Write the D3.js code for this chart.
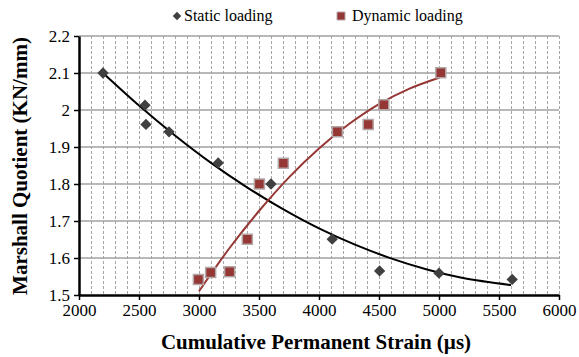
<!DOCTYPE html>
<html>
<head>
<meta charset="utf-8">
<script src="https://cdn.jsdelivr.net/npm/d3@7"></script>
<style>
  body { margin: 0; background: #fff; }
  text { font-family: "Liberation Serif", "Times New Roman", serif; fill: #000; }
  .titulo-eje { font-size: 21px; font-weight: bold; }
  .leyenda { font-size: 16px; }
</style>
</head>
<body>
<div id="graf"></div>
<script>
// I. Datos
staticX = [2200, 2550, 2558, 2750, 3160, 3600, 4110, 4505, 5000, 5610]
staticY = [2.10, 2.013, 1.961, 1.941, 1.857, 1.80, 1.651, 1.565, 1.559, 1.542]

dynamicX = [2995, 3097, 3255, 3403, 3503, 3703, 4153, 4410, 4540, 5015]
dynamicY = [1.542, 1.561, 1.563, 1.651, 1.80, 1.856, 1.941, 1.961, 2.014, 2.101]

// líneas de tendencia
staticTrendX = [2200, 2500, 2800, 3100, 3400, 3700, 4000, 4300, 4600, 4900, 5200, 5600]
staticTrendY = [2.10, 2.012, 1.931, 1.857, 1.791, 1.732, 1.680, 1.636, 1.599, 1.569, 1.546, 1.527]

dynamicTrendX = [3000, 3250, 3500, 3750, 4000, 4250, 4500, 4750, 5000]
dynamicTrendY = [1.51, 1.625, 1.727, 1.818, 1.896, 1.962, 2.016, 2.057, 2.087]

xTicks = [2000, 2500, 3000, 3500, 4000, 4500, 5000, 5500, 6000]
yTicks = [1.5, 1.6, 1.7, 1.8, 1.9, 2, 2.1, 2.2]

// II. Configuración
ancho_total = 579
alto_total = 357
margins = { top: 36, left: 79, right: 20, bottom: 62 }
ancho = ancho_total - margins.left - margins.right
alto = alto_total - margins.top - margins.bottom

svg = d3.select('#graf').append('svg')
        .attr('width', ancho_total)
        .attr('height', alto_total)

g = svg.append('g')
       .attr('transform', `translate(${ margins.left }, ${ margins.top })`)

x = d3.scaleLinear().domain([2000, 6000]).range([0, ancho])
y = d3.scaleLinear().domain([1.5, 2.2]).range([alto, 0])

// rejilla vertical punteada cada 100
g.append('g')
  .selectAll('line')
  .data(d3.range(2100, 6001, 100))
  .enter().append('line')
    .attr('x1', d => x(d)).attr('x2', d => x(d))
    .attr('y1', 0).attr('y2', alto)
    .attr('stroke', '#a6a6a6')
    .attr('stroke-width', 1)
    .attr('stroke-dasharray', '3,2')
    .attr('shape-rendering', 'crispEdges')

// rejilla horizontal
g.append('g')
  .selectAll('line')
  .data(yTicks.slice(1))
  .enter().append('line')
    .attr('x1', 0).attr('x2', ancho)
    .attr('y1', d => y(d)).attr('y2', d => y(d))
    .attr('stroke', '#a0a0a0')
    .attr('stroke-width', 1.5)

// ejes
xAxisGroup = g.append('g')
              .attr('class', 'eje')
              .attr('transform', `translate(0, ${ alto })`)
              .call(d3.axisBottom(x).tickValues(xTicks).tickSize(5).tickSizeOuter(0).tickPadding(4).tickFormat(d3.format('d')))
yAxisGroup = g.append('g')
              .attr('class', 'eje')
              .call(d3.axisLeft(y).tickValues(yTicks).tickSize(5).tickSizeOuter(0).tickPadding(4).tickFormat(d => d))

g.selectAll('.eje path').attr('stroke', '#000').attr('stroke-width', 2.5)
g.selectAll('.eje line').attr('stroke', '#000').attr('stroke-width', 1.5)
g.selectAll('.eje text').style('font-size', '17px').style('font-family', '"Liberation Serif", serif')

// líneas de tendencia
linea = d3.line().x(d => x(d[0])).y(d => y(d[1])).curve(d3.curveCatmullRom)

g.append('path')
  .datum(staticTrendX.map((v, i) => [v, staticTrendY[i]]))
  .attr('d', linea)
  .attr('fill', 'none')
  .attr('stroke', '#000')
  .attr('stroke-width', 2)

g.append('path')
  .datum(dynamicTrendX.map((v, i) => [v, dynamicTrendY[i]]))
  .attr('d', linea)
  .attr('fill', 'none')
  .attr('stroke', '#953735')
  .attr('stroke-width', 2)

// marcadores
diamante = d3.symbol().type(d3.symbolSquare).size(64)
cuadro = d3.symbol().type(d3.symbolSquare).size(100)

g.selectAll('.dyn')
  .data(dynamicX.map((v, i) => [v, dynamicY[i]]))
  .enter().append('path')
    .attr('class', 'dyn')
    .attr('d', cuadro)
    .attr('transform', d => `translate(${ x(d[0]) }, ${ y(d[1]) })`)
    .attr('fill', '#953735')
    .attr('stroke', '#b3a6a6')
    .attr('stroke-width', 1.5)

g.selectAll('.sta')
  .data(staticX.map((v, i) => [v, staticY[i]]))
  .enter().append('path')
    .attr('class', 'sta')
    .attr('d', diamante)
    .attr('transform', d => `translate(${ x(d[0]) }, ${ y(d[1]) }) rotate(45)`)
    .attr('fill', '#404040')

// leyenda
svg.append('path')
   .attr('d', d3.symbol().type(d3.symbolSquare).size(36))
   .attr('transform', 'translate(177, 16) rotate(45)')
   .attr('fill', '#404040')
svg.append('text')
   .attr('class', 'leyenda')
   .attr('x', 184).attr('y', 21)
   .text('Static loading')

svg.append('path')
   .attr('d', d3.symbol().type(d3.symbolSquare).size(64))
   .attr('transform', 'translate(341, 16)')
   .attr('fill', '#953735')
   .attr('stroke', '#b3a6a6')
svg.append('text')
   .attr('class', 'leyenda')
   .attr('x', 352).attr('y', 21)
   .text('Dynamic loading')

// títulos de ejes
svg.append('text')
   .attr('class', 'titulo-eje')
   .attr('x', 316)
   .attr('y', 349)
   .attr('text-anchor', 'middle')
   .text('Cumulative Permanent Strain (µs)')

svg.append('text')
   .attr('class', 'titulo-eje')
   .attr('transform', `translate(27, 166) rotate(-90)`)
   .attr('text-anchor', 'middle')
   .text('Marshall Quotient (KN/mm)')
</script>
</body>
</html>
